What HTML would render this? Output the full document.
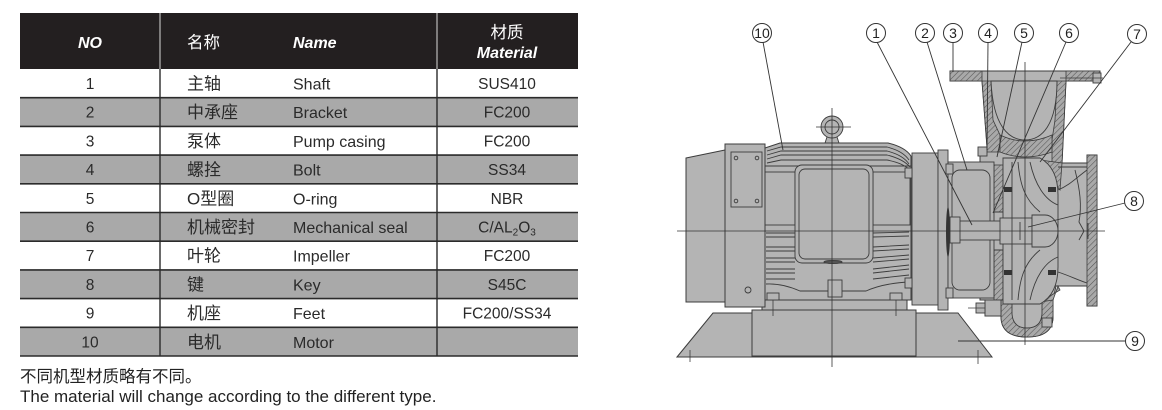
<!DOCTYPE html>
<html><head><meta charset="utf-8">
<style>
html,body{margin:0;padding:0;background:#fff;}
body{width:1162px;height:410px;overflow:hidden;position:relative;}
svg{position:absolute;left:0;top:0;}
.t{font-family:"Liberation Sans","Noto Sans CJK SC",sans-serif;}
</style></head>
<body>
<svg width="1162" height="410" viewBox="0 0 1162 410" xmlns="http://www.w3.org/2000/svg">
<defs>
<pattern id="h" patternUnits="userSpaceOnUse" width="4" height="4" patternTransform="rotate(45)">
<rect width="4" height="4" fill="#a9a9a9"/>
<line x1="0" y1="0" x2="0" y2="4" stroke="#555" stroke-width="1.1"/>
</pattern>
</defs>

<!-- ===== TABLE ===== -->
<rect x="20" y="13" width="558" height="56" fill="#231f20"/>
<line x1="160" y1="13" x2="160" y2="69" stroke="#d8d8d8" stroke-width="1"/>
<line x1="437" y1="13" x2="437" y2="69" stroke="#d8d8d8" stroke-width="1"/>
<g fill="#a9a9a9">
<rect x="20" y="97.7" width="558" height="28.7"/>
<rect x="20" y="155.1" width="558" height="28.7"/>
<rect x="20" y="212.5" width="558" height="28.7"/>
<rect x="20" y="269.9" width="558" height="28.7"/>
<rect x="20" y="327.3" width="558" height="28.7"/>
</g>
<g stroke="#2b2b2b" stroke-width="1.6">
<line x1="20" y1="97.7" x2="578" y2="97.7"/><line x1="20" y1="126.4" x2="578" y2="126.4"/>
<line x1="20" y1="155.1" x2="578" y2="155.1"/><line x1="20" y1="183.8" x2="578" y2="183.8"/>
<line x1="20" y1="212.5" x2="578" y2="212.5"/><line x1="20" y1="241.2" x2="578" y2="241.2"/>
<line x1="20" y1="269.9" x2="578" y2="269.9"/><line x1="20" y1="298.6" x2="578" y2="298.6"/>
<line x1="20" y1="327.3" x2="578" y2="327.3"/><line x1="20" y1="356" x2="578" y2="356"/>
</g>
<line x1="160" y1="69" x2="160" y2="356" stroke="#2b2b2b" stroke-width="1.4"/>
<line x1="437" y1="69" x2="437" y2="356" stroke="#2b2b2b" stroke-width="1.4"/>

<g class="t" fill="#fff">
<text x="90" y="48" font-size="16" font-weight="bold" font-style="italic" text-anchor="middle">NO</text>
<text x="187" y="48" font-size="16.5">名称</text>
<text x="293" y="48" font-size="16" font-weight="bold" font-style="italic">Name</text>
<text x="507" y="38" font-size="16.5" text-anchor="middle">材质</text>
<text x="507" y="58" font-size="16" font-weight="bold" font-style="italic" text-anchor="middle">Material</text>
</g>

<g class="t" fill="#2a2a2a" font-size="15.5">
<g font-size="17">
<text x="187" y="89.5">主轴</text>
<text x="187" y="118.2">中承座</text>
<text x="187" y="146.9">泵体</text>
<text x="187" y="175.6">螺拴</text>
<text x="187" y="204.3">O型圈</text>
<text x="187" y="233">机械密封</text>
<text x="187" y="261.7">叶轮</text>
<text x="187" y="290.4">键</text>
<text x="187" y="319.1">机座</text>
<text x="187" y="347.8">电机</text>
</g>
<g font-size="16">
<text x="293" y="89.5">Shaft</text>
<text x="293" y="118.2">Bracket</text>
<text x="293" y="146.9">Pump casing</text>
<text x="293" y="175.6">Bolt</text>
<text x="293" y="204.3">O-ring</text>
<text x="293" y="233">Mechanical seal</text>
<text x="293" y="261.7">Impeller</text>
<text x="293" y="290.4">Key</text>
<text x="293" y="319.1">Feet</text>
<text x="293" y="347.8">Motor</text>
</g>
<text x="90" y="89" text-anchor="middle">1</text>
<text x="507" y="89" text-anchor="middle">SUS410</text>
<text x="90" y="117.7" text-anchor="middle">2</text>
<text x="507" y="117.7" text-anchor="middle">FC200</text>
<text x="90" y="146.4" text-anchor="middle">3</text>
<text x="507" y="146.4" text-anchor="middle">FC200</text>
<text x="90" y="175.1" text-anchor="middle">4</text>
<text x="507" y="175.1" text-anchor="middle">SS34</text>
<text x="90" y="203.8" text-anchor="middle">5</text>
<text x="507" y="203.8" text-anchor="middle">NBR</text>
<text x="90" y="232.5" text-anchor="middle">6</text>
<text x="507" y="232.5" text-anchor="middle">C/AL<tspan font-size="10" dy="3">2</tspan><tspan dy="-3">O</tspan><tspan font-size="10" dy="3">3</tspan></text>
<text x="90" y="261.2" text-anchor="middle">7</text>
<text x="507" y="261.2" text-anchor="middle">FC200</text>
<text x="90" y="289.9" text-anchor="middle">8</text>
<text x="507" y="289.9" text-anchor="middle">S45C</text>
<text x="90" y="318.6" text-anchor="middle">9</text>
<text x="507" y="318.6" text-anchor="middle">FC200/SS34</text>
<text x="90" y="347.3" text-anchor="middle">10</text>
</g>

<g class="t" fill="#222">
<text x="20" y="382" font-size="16.5">不同机型材质略有不同。</text>
<text x="20" y="402" font-size="17">The material will change according to the different type.</text>
</g>

<!-- ===== PUMP DRAWING ===== -->
<g fill="#b4b4b4" stroke="#3c3c3c" stroke-width="1">
<polygon points="677,357 713,313 958,313 992,357"/>
<rect x="752" y="310" width="164" height="46"/>
<rect x="762" y="300" width="145" height="10"/>
<polygon points="686,158 725,150 725,302 686,302"/>
<rect x="725" y="144" width="40" height="163"/>
<path d="M765,148 L780,143 L888,143 Q905,147 911,156 L911,300 L765,300 Z"/>
<path d="M950,71 H1100 V81 H1066 L1062,163 H1087 V155 H1097 V306 H1087 V286 H1056 L1053,300 L1053,318 Q1052,337 1027,337 Q1002,337 1001,318 L1001,316 H985 V300 H980 V150 L987,147 L982,81 H950 Z"/>
</g>

<g fill="url(#h)" stroke="#3c3c3c" stroke-width="0.8">
<rect x="950" y="71" width="32" height="10"/>
<rect x="1066" y="71" width="34" height="10"/>
<polygon points="982,81 991,81 993,120 1000,135 1000,152 987,152 987,147"/>
<polygon points="1057,81 1066,81 1062,163 1052,163 1052,140 1055,120"/>
<path d="M1000,135 Q1025,147 1052,135 L1052,152 Q1025,162 1000,152 Z"/>
<rect x="1087" y="155" width="10" height="151"/>
<path d="M1001,300 L1001,318 Q1002,337 1027,337 Q1052,337 1053,318 L1053,300 Z"/>
<rect x="994" y="165" width="9" height="47"/>
<rect x="994" y="250" width="9" height="50"/>
<polygon points="1040,160 1062,163 1060,190 1056,185"/>
<polygon points="1040,302 1060,290 1058,286 1053,300"/>
</g>
<g fill="#b4b4b4" stroke="#3c3c3c" stroke-width="0.9">
<path d="M991,81 H1057 C1057,125 1042,140 1025,140 C1008,140 993,125 991,81 Z"/>
<path d="M1012,300 L1012,314 Q1013,328 1027,328 Q1041,328 1042,314 L1042,300 Z"/>
<path d="M1003,158 H1040 Q1058,168 1058,195 V267 Q1058,294 1040,304 H1003 Z"/>
<rect x="912" y="153" width="26" height="152"/>
<rect x="938" y="150" width="10" height="160"/>
<rect x="948" y="162" width="46" height="136"/>
<rect x="952" y="170" width="38" height="120" rx="8" fill="none"/>
<rect x="958" y="221" width="44" height="19"/>
<rect x="950" y="217" width="10" height="26"/>
<rect x="1000" y="218" width="32" height="26"/>
<path d="M1032,215 H1045 A13,16 0 0 1 1045,247 H1032 Z"/>
<rect x="985" y="300" width="16" height="16"/>
</g>
<g fill="none" stroke="#3c3c3c" stroke-width="0.9">
<line x1="1012" y1="162" x2="1012" y2="300"/>
<path d="M1018,162 C1020,185 1025,200 1040,212"/>
<path d="M1030,162 C1035,185 1045,200 1058,205"/>
<path d="M1018,300 C1020,277 1025,262 1040,250"/>
<path d="M1030,300 C1035,277 1045,262 1058,257"/>
<path d="M1058,190 C1070,185 1076,178 1087,170"/>
<path d="M1058,272 C1070,276 1078,280 1087,283"/>
<line x1="1058" y1="167" x2="1087" y2="167"/>
<path d="M1075,170 C1080,190 1082,205 1079,222 L1084,231 L1079,240"/>
<line x1="994" y1="212" x2="1003" y2="212"/>
<line x1="994" y1="250" x2="1003" y2="250"/>
<line x1="1020" y1="222" x2="1020" y2="240"/>
</g>
<g fill="#333">
<rect x="1004" y="187" width="8" height="5"/>
<rect x="1004" y="270" width="8" height="5"/>
<rect x="1048" y="187" width="8" height="5"/>
<rect x="1048" y="270" width="8" height="5"/>
<ellipse cx="948" cy="232" rx="2" ry="25"/>
</g>

<g fill="none" stroke="#3c3c3c" stroke-width="0.9">
<rect x="731" y="152" width="31" height="55"/>
<circle cx="736" cy="158" r="1.8"/><circle cx="757" cy="158" r="1.8"/>
<circle cx="736" cy="201" r="1.8"/><circle cx="757" cy="201" r="1.8"/>
<circle cx="748" cy="290" r="3"/>
<path d="M767,151 L781,147 H887 Q903,151 909,160"/>
<path d="M767,155 L781,151 H887 Q903,155 909,164"/>
<path d="M767,159 L781,155 H887 Q903,159 910,167"/>
<path d="M767,163 L781,160 H887 Q903,163 910,170"/>
<line x1="765" y1="166" x2="911" y2="166"/>
<rect x="765" y="172" width="30" height="53"/>
<rect x="873" y="172" width="37" height="53"/>
<path d="M766,233 H795 M766,237 H795 M766,247 H795 M766,251 H795 M766,258 H795 M766,262 H795 M766,269 H795 M766,273 H795 M766,279 H795"/>
<path d="M873,233 L909,232 M873,237 L909,236 M873,247 L909,245 M873,251 L909,249 M873,258 L909,255 M873,262 L909,259 M873,269 L909,265 M873,273 L909,269 M873,279 L909,275"/>
<path d="M766,284 Q782,283 800,291 H828 M842,291 H866 Q884,283 910,282"/>
<rect x="828" y="280" width="14" height="17" fill="#b4b4b4"/>
</g>
<g fill="#b4b4b4" stroke="#3c3c3c" stroke-width="0.9">
<rect x="795" y="165" width="78" height="98" rx="7"/>
<rect x="799" y="169" width="70" height="90" rx="6"/>
<ellipse cx="833" cy="262" rx="9" ry="1.5" fill="#555"/>
<polygon points="825,143 827,137 837,137 839,143"/>
<circle cx="832" cy="127" r="11"/>
<circle cx="832" cy="127" r="7"/>
<rect x="767" y="293" width="12" height="7"/>
<rect x="890" y="293" width="12" height="7"/>
<rect x="905" y="168" width="7" height="10"/>
<rect x="905" y="278" width="7" height="10"/>
<rect x="946" y="164" width="7" height="10"/>
<rect x="946" y="288" width="7" height="10"/>
<rect x="978" y="147" width="9" height="9"/>
<rect x="976" y="303" width="9" height="10"/>
<rect x="1042" y="318" width="10" height="9"/>
<rect x="1093" y="73" width="8" height="10"/>
</g>
<g fill="none" stroke="#3c3c3c" stroke-width="0.8">
<line x1="773" y1="300" x2="773" y2="316"/>
<line x1="896" y1="300" x2="896" y2="316"/>
<line x1="1060" y1="78" x2="1103" y2="78"/>
<line x1="968" y1="308" x2="985" y2="308"/>
<line x1="690" y1="350" x2="690" y2="362"/>
<line x1="978" y1="350" x2="978" y2="364"/>
</g>

<g stroke="#333" stroke-width="0.8" fill="none">
<line x1="677" y1="231" x2="1105" y2="231"/>
<line x1="832" y1="108" x2="832" y2="367"/>
<line x1="816" y1="127" x2="851" y2="127"/>
<line x1="1025" y1="62" x2="1025" y2="345"/>
<line x1="1088" y1="223" x2="1088" y2="239"/>
</g>

<g stroke="#333" stroke-width="0.9" fill="none">
<line x1="763" y1="42" x2="783" y2="150"/>
<line x1="877" y1="42" x2="972" y2="225"/>
<line x1="927" y1="42" x2="967" y2="170"/>
<line x1="953" y1="42" x2="953" y2="72"/>
<line x1="988" y1="42" x2="987" y2="150"/>
<line x1="1022" y1="42" x2="997" y2="157"/>
<line x1="1066" y1="42" x2="993" y2="213"/>
<line x1="1131" y1="42" x2="1040" y2="162"/>
<line x1="1125" y1="203" x2="1028" y2="227"/>
<line x1="1125" y1="341" x2="958" y2="341"/>
</g>

<g fill="#fff" stroke="#333" stroke-width="1">
<circle cx="762" cy="33" r="9.5"/>
<circle cx="876" cy="33" r="9.5"/>
<circle cx="925" cy="33" r="9.5"/>
<circle cx="953" cy="33" r="9.5"/>
<circle cx="988" cy="33" r="9.5"/>
<circle cx="1024" cy="33" r="9.5"/>
<circle cx="1069" cy="33" r="9.5"/>
<circle cx="1137" cy="34" r="9.5"/>
<circle cx="1134" cy="201" r="9.5"/>
<circle cx="1135" cy="341" r="9.5"/>
</g>
<g class="t" fill="#222" font-size="14" text-anchor="middle">
<text x="762" y="38">10</text>
<text x="876" y="38">1</text>
<text x="925" y="38">2</text>
<text x="953" y="38">3</text>
<text x="988" y="38">4</text>
<text x="1024" y="38">5</text>
<text x="1069" y="38">6</text>
<text x="1137" y="39">7</text>
<text x="1134" y="206">8</text>
<text x="1135" y="346">9</text>
</g>
</svg>
</body></html>
